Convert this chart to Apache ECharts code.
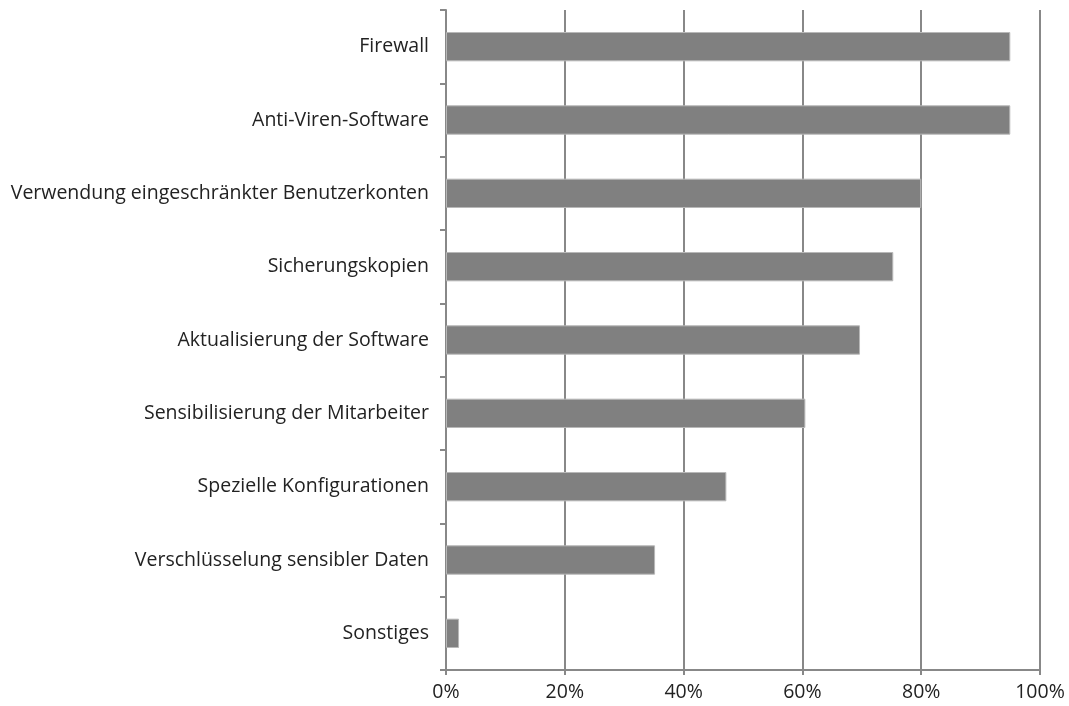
<!DOCTYPE html>
<html>
<head>
<meta charset="utf-8">
<script src="https://cdn.jsdelivr.net/npm/echarts@6/dist/echarts.min.js"></script>
<style>
  html, body { margin: 0; padding: 0; background: #fff; }
  #chart { width: 1069px; height: 706px; }
</style>
</head>
<body>
<div id="chart"></div>
<script>
// Kategorien von oben nach unten
var kategorien = ['Firewall', 'Anti-Viren-Software', 'Verwendung eingeschränkter Benutzerkonten',
  'Sicherungskopien', 'Aktualisierung der Software', 'Sensibilisierung der Mitarbeiter',
  'Spezielle Konfigurationen', 'Verschlüsselung sensibler Daten', 'Sonstiges'];
// Anteile in Prozent
var anteile = [95, 95, 80, 75.3, 69.7, 60.5, 47.2, 35.2, 2.2];
// x-Achse
var xTicks = [0, 20, 40, 60, 80, 100];

var chart = echarts.init(document.getElementById('chart'));
chart.setOption({
  animation: false,
  textStyle: { fontFamily: 'Open Sans' },
  grid: { left: 446, right: 29, top: 10, bottom: 36 },
  xAxis: {
    type: 'value',
    min: xTicks[0],
    max: xTicks[xTicks.length - 1],
    interval: 20,
    axisLine: { show: true, lineStyle: { color: '#888', width: 2 } },
    axisTick: { show: true, length: 5, lineStyle: { color: '#888', width: 2 } },
    splitLine: { show: true, lineStyle: { color: '#888', width: 2 } },
    axisLabel: { color: '#222', fontSize: 19.5, margin: 12, formatter: '{value}%' }
  },
  yAxis: {
    type: 'category',
    inverse: true,
    data: kategorien,
    axisLine: { show: true, lineStyle: { color: '#888', width: 2 } },
    axisTick: { show: true, length: 6, lineStyle: { color: '#888', width: 2 } },
    axisLabel: { color: '#222', fontSize: 19.5, margin: 17 }
  },
  series: [{
    type: 'bar',
    data: anteile,
    barWidth: '40%',
    itemStyle: { color: '#808080', borderColor: '#b8b8b8', borderWidth: 1 }
  }]
});
</script>
</body>
</html>
